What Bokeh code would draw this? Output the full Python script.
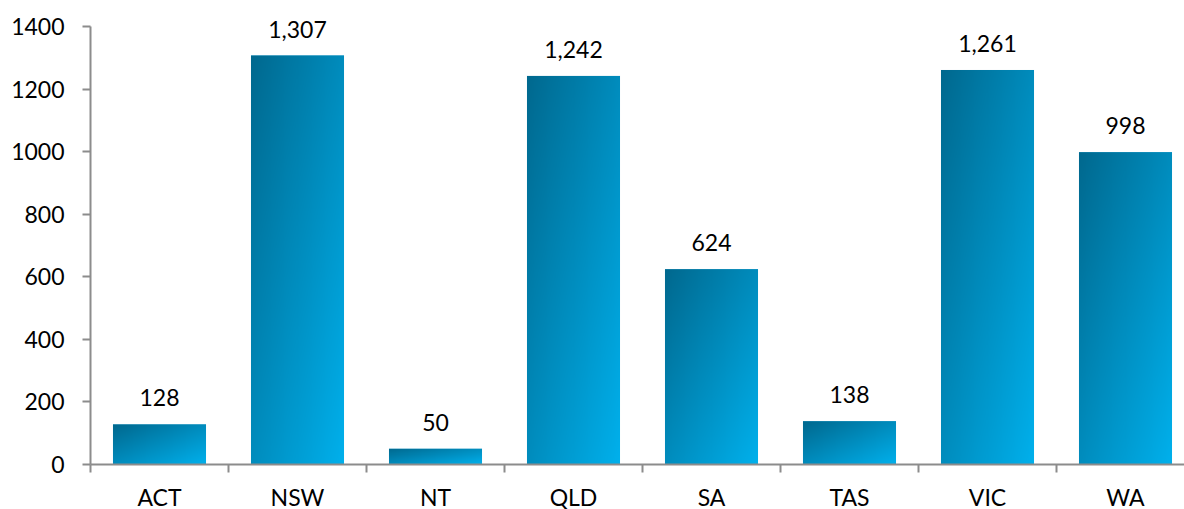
import numpy as np
from bokeh.plotting import figure
from bokeh.models import Range1d, FixedTicker, ColumnDataSource, LabelSet
from bokeh.core.properties import value
from bokeh.embed import file_html
from bokeh.resources import INLINE

# Counts per state / territory
states = ["ACT", "NSW", "NT", "QLD", "SA", "TAS", "VIC", "WA"]
counts = [128, 1307, 50, 1242, 624, 138, 1261, 998]
y_ticks = [0, 200, 400, 600, 800, 1000, 1200, 1400]

BAR_WIDTH = 0.674
FONT = "Lato"
FONT_SIZE = "23px"
AXIS_GREY = "#8c8c8c"
DARK = np.array([0, 104, 142], dtype=float)    # top-left of each bar
LIGHT = np.array([0, 176, 236], dtype=float)   # bottom-right of each bar

# vertical layout: 0..1400 spans 438 px, with head-room above for value labels
PX_PER_UNIT = 438 / 1400
HEADROOM_PX = 21
Y_MAX = y_ticks[-1] + HEADROOM_PX / PX_PER_UNIT

centers = [i + 0.5 for i in range(len(states))]
boundaries = list(range(len(states)))


def gradient_rgba(w=100, h=220):
    """Diagonal gradient: dark at the top-left corner, light at the bottom-right."""
    u = np.linspace(0.0, 1.0, w)[None, :]
    v = np.linspace(1.0, 0.0, h)[:, None]   # row 0 is drawn at the bottom
    t = (u + v) / 2.0
    rgb = DARK[None, None, :] + (LIGHT - DARK)[None, None, :] * t[..., None]
    img = np.empty((h, w), dtype=np.uint32)
    view = img.view(dtype=np.uint8).reshape((h, w, 4))
    view[..., 0] = rgb[..., 0].round()
    view[..., 1] = rgb[..., 1].round()
    view[..., 2] = rgb[..., 2].round()
    view[..., 3] = 255
    return img


p = figure(
    frame_width=1094, frame_height=438 + HEADROOM_PX,
    x_range=Range1d(0, 1094 / 138), y_range=Range1d(0, Y_MAX),
    output_backend="svg", toolbar_location=None,
    min_border_left=90, min_border_right=0, min_border_top=5, min_border_bottom=40,
)
p.outline_line_color = None
p.xgrid.visible = False
p.ygrid.visible = False
p.background_fill_color = "white"
p.border_fill_color = "white"

bars = ColumnDataSource(dict(
    state=states,
    center=centers,
    left=[c - BAR_WIDTH / 2 for c in centers],
    count=counts,
    label=[f"{c:,}" for c in counts],
))

# solid base bar, then the shaded fill laid exactly over it
p.vbar(x="center", top="count", bottom=0, width=BAR_WIDTH, source=bars,
       fill_color="#008cc0", line_color=None)
p.image_rgba(image=[gradient_rgba() for _ in counts], x=bars.data["left"],
             y=[0] * len(counts), dw=[BAR_WIDTH] * len(counts), dh=counts)

labels = LabelSet(x="center", y="count", text="label", source=bars,
                  y_offset=18, text_align="center", text_baseline="alphabetic",
                  text_font=value(FONT), text_font_size=value(FONT_SIZE),
                  text_color=value("#000000"))
p.add_layout(labels)

# y axis
ya = p.yaxis[0]
ya.ticker = FixedTicker(ticks=y_ticks)
ya.bounds = (y_ticks[0], y_ticks[-1])
ya.axis_line_color = AXIS_GREY
ya.axis_line_width = 2
ya.major_tick_line_color = AXIS_GREY
ya.major_tick_line_width = 2
ya.major_tick_out = 8
ya.major_tick_in = 0
ya.minor_tick_line_color = None
ya.major_label_text_font = FONT
ya.major_label_text_font_size = FONT_SIZE
ya.major_label_text_color = "#000000"
ya.major_label_standoff = 18

# x axis: names centred on each bar, ticks on the category boundaries
xa = p.xaxis[0]
xa.ticker = FixedTicker(ticks=centers, minor_ticks=boundaries)
xa.major_label_overrides = {float(c): s for c, s in zip(centers, states)}
xa.axis_line_color = AXIS_GREY
xa.axis_line_width = 2
xa.major_tick_line_color = None
xa.major_tick_out = 0
xa.major_tick_in = 0
xa.minor_tick_line_color = AXIS_GREY
xa.minor_tick_line_width = 2
xa.minor_tick_out = 8
xa.minor_tick_in = 0
xa.major_label_text_font = FONT
xa.major_label_text_font_size = FONT_SIZE
xa.major_label_text_color = "#000000"
xa.major_label_standoff = 10

open("out.html", "w").write(file_html(p, INLINE))
